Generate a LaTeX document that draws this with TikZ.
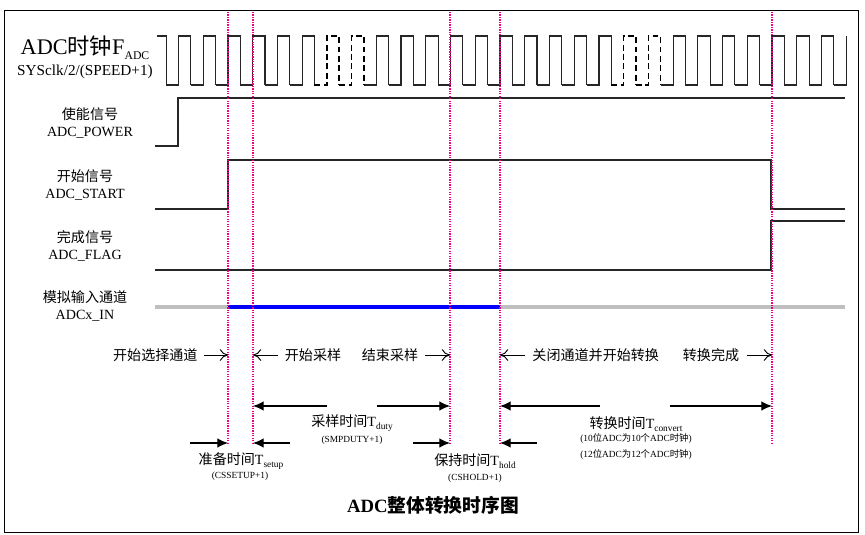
\documentclass[tikz,border=0pt]{standalone}
\usepackage{fontspec}
\setmainfont{Liberation Serif}
\newfontfamily\cjk{Noto Sans CJK SC}
\usetikzlibrary{arrows.meta}
\newcommand\lowtxt[1]{\raisebox{-0.45ex}{\footnotesize #1}}
\newcommand\clkcycle[2]{%
  \pgfmathsetmacro\fa{166.1+24.73*#1}%
  \pgfmathsetmacro\ri{178.5+24.73*#1}%
  \pgfmathsetmacro\fb{166.1+24.73*(#1+1)}%
  \draw[#2] (\fa,85) -- (\ri,85) -- (\ri,36) -- (\fb,36) -- (\fb,85);}

\begin{document}
\begin{tikzpicture}[x=0.03cm,y=-0.03cm,line width=0.8pt,
    sig/.style={draw=black!85,line width=1pt},
    dsig/.style={draw=black,line width=1.3pt,dash pattern=on 5pt off 3pt},
    tmark/.style={magenta,line width=1.1pt,densely dotted},
    small/.style={-{To[length=7pt,width=10pt]},line width=0.8pt},
    big/.style={-{Latex[length=9pt,width=8pt]},line width=0.9pt},
    lbl/.style={font=\fontsize{12}{13}\selectfont,inner sep=0pt,align=center}]
		\useasboundingbox (0,0) rectangle (865,535);
		\draw[line width=0.8pt] (4,10) rectangle (858,532);

		% marker lines
		\path (228,12) coordinate (tA);
		\path (253,12) coordinate (tB);
		\path (450,12) coordinate (tC);
		\path (500,12) coordinate (tD);
		\path (772,12) coordinate (tE);

		% clock
		\draw[sig] (157,36) -- (166.1,36) -- (166.1,85);
		\foreach \k in {0,...,5,8,9,...,17,20,21,...,26} {\clkcycle{\k}{sig}}
		\foreach \k in {6,7,18,19} {\clkcycle{\k}{dsig}}
		\draw[sig] (833.8,85) -- (846.2,85) -- (846.2,36);
		\node[lbl,font=\fontsize{19}{20}\selectfont] (clk) at (85,48) {ADC{\cjk 时钟}F\lowtxt{\normalsize ADC}};
		\node[lbl,font=\fontsize{13}{14}\selectfont] (clkdiv) at (85,72) {SYSclk/2/(SPEED+1)};

		% ADC_POWER
		\draw[sig] (155,146) -- (178,146) -- (178,98) -- (845,98);
		\node[lbl] (pwr) at (90,123) {{\cjk 使能信号}\\[2pt]ADC\_POWER};

		% ADC_START
		\draw[sig] (155,209) -- (228,209) -- (228,160) -- (771,160) -- (771,209) -- (845,209);
		\node[lbl] (start) at (85,185) {{\cjk 开始信号}\\[2pt]ADC\_START};

		% ADC_FLAG
		\draw[sig] (155,270) -- (771,270) -- (771,221) -- (845,221);
		\node[lbl] (flag) at (85,246) {{\cjk 完成信号}\\[2pt]ADC\_FLAG};

		% ADCx_IN
		\draw[black!25,line width=2.6pt] (155,307) -- (845,307);
		\draw[blue,line width=2.6pt] (228,307) -- (500,307);
		\node[lbl] (ain) at (85,306) {{\cjk 模拟输入通道}\\[2pt]ADCx\_IN};

		\foreach \t/\e in {tA/445,tB/445,tC/445,tD/445,tE/443}
			\draw[tmark] (\t) -- (\t |- 0,\e);

		% events
		\node[lbl,anchor=east] (selch) at (198,355) {\cjk 开始选择通道};
		\draw[small] (204,355) -- (tA |- 0,355);
		\node[lbl] (smpbeg) at (313,355) {\cjk 开始采样};
		\draw[small] (278,355) -- (tB |- 0,355);
		\node[lbl] (smpend) at (390,355) {\cjk 结束采样};
		\draw[small] (425,355) -- (tC |- 0,355);
		\node[lbl,anchor=west] (cvtbeg) at (532,355) {\cjk 关闭通道并开始转换};
		\draw[small] (525,355) -- (tD |- 0,355);
		\node[lbl] (cvtend) at (711,355) {\cjk 转换完成};
		\draw[small] (747,355) -- (tE |- 0,355);

		% sample time
		\draw[big] (327,406) -- (tB |- 0,406);
		\draw[big] (377,406) -- (tC |- 0,406);
		\node[lbl] (tduty) at (352,423) {{\cjk 采样时间}T\lowtxt{duty}};
		\node[lbl,font=\fontsize{8}{9}\selectfont] (smpduty) at (352,440) {(SMPDUTY+1)};

		% convert time
		\draw[big] (600,406) -- (tD |- 0,406);
		\draw[big] (670,406) -- (tE |- 0,406);
		\node[lbl] (tcvt) at (636,424) {{\cjk 转换时间}T\lowtxt{convert}};
		\node[lbl,font=\fontsize{8}{9}\selectfont] (cvt10) at (636,439) {(10{\cjk 位}ADC{\cjk 为}10{\cjk 个}ADC{\cjk 时钟})};
		\node[lbl,font=\fontsize{8}{9}\selectfont] (cvt12) at (636,455) {(12{\cjk 位}ADC{\cjk 为}12{\cjk 个}ADC{\cjk 时钟})};

		% setup and hold
		\draw[big] (190,443) -- (tA |- 0,443);
		\draw[big] (290,443) -- (tB |- 0,443);
		\draw[big] (413,443) -- (tC |- 0,443);
		\draw[big] (537,443) -- (tD |- 0,443);
		\node[lbl] (tsetup) at (241,461) {{\cjk 准备时间}T\lowtxt{setup}};
		\node[lbl,font=\fontsize{8}{9}\selectfont] (cssetup) at (240,476) {(CSSETUP+1)};
		\node[lbl] (thold) at (475,461) {{\cjk 保持时间}T\lowtxt{hold}};
		\node[lbl,font=\fontsize{8}{9}\selectfont] (cshold) at (475,478) {(CSHOLD+1)};

		\node[lbl,font=\fontsize{16}{17}\selectfont\bfseries] (title) at (433,505) {ADC{\cjk 整体转换时序图}};
\end{tikzpicture}
\end{document}
